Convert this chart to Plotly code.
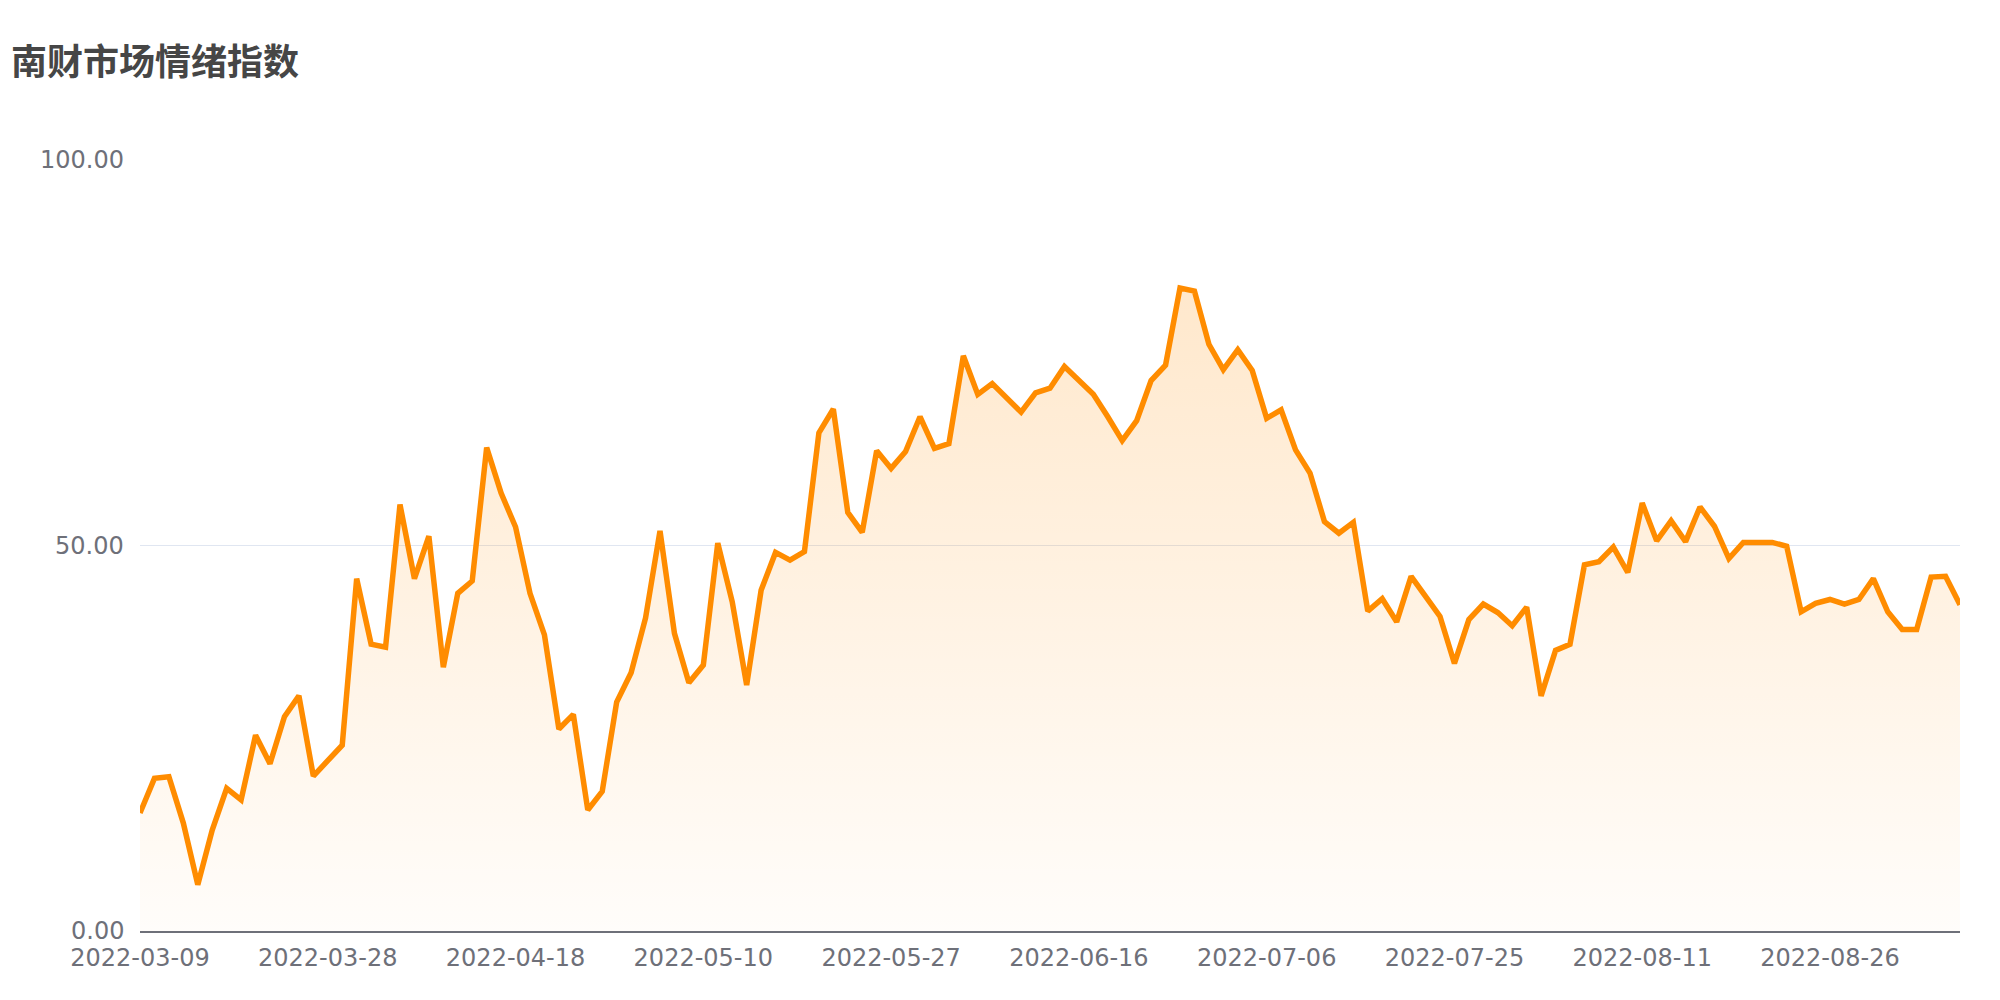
import plotly.graph_objects as go

title_text = "南财市场情绪指数"

dates = [
    "2022-03-09", "2022-03-10", "2022-03-11", "2022-03-14", "2022-03-15", "2022-03-16", "2022-03-17",
    "2022-03-18", "2022-03-21", "2022-03-22", "2022-03-23", "2022-03-24", "2022-03-25", "2022-03-28",
    "2022-03-29", "2022-03-30", "2022-03-31", "2022-04-01", "2022-04-06", "2022-04-07", "2022-04-08",
    "2022-04-11", "2022-04-12", "2022-04-13", "2022-04-14", "2022-04-15", "2022-04-18",
    "2022-04-19", "2022-04-20", "2022-04-21", "2022-04-22", "2022-04-25", "2022-04-26", "2022-04-27",
    "2022-04-28", "2022-04-29", "2022-05-05", "2022-05-06", "2022-05-09", "2022-05-10",
    "2022-05-11", "2022-05-12", "2022-05-13", "2022-05-16", "2022-05-17", "2022-05-18", "2022-05-19",
    "2022-05-20", "2022-05-23", "2022-05-24", "2022-05-25", "2022-05-26", "2022-05-27",
    "2022-05-30", "2022-05-31", "2022-06-01", "2022-06-02", "2022-06-06", "2022-06-07", "2022-06-08",
    "2022-06-09", "2022-06-10", "2022-06-13", "2022-06-14", "2022-06-15", "2022-06-16",
    "2022-06-17", "2022-06-20", "2022-06-21", "2022-06-22", "2022-06-23", "2022-06-27", "2022-06-28",
    "2022-06-29", "2022-06-30", "2022-07-01", "2022-07-04", "2022-07-05", "2022-07-06",
    "2022-07-07", "2022-07-08", "2022-07-11", "2022-07-12", "2022-07-13", "2022-07-14", "2022-07-15",
    "2022-07-18", "2022-07-19", "2022-07-20", "2022-07-21", "2022-07-22", "2022-07-25",
    "2022-07-26", "2022-07-27", "2022-07-28", "2022-07-29", "2022-08-01", "2022-08-02", "2022-08-03",
    "2022-08-04", "2022-08-05", "2022-08-08", "2022-08-09", "2022-08-10", "2022-08-11",
    "2022-08-12", "2022-08-13", "2022-08-14", "2022-08-15", "2022-08-16", "2022-08-17", "2022-08-18",
    "2022-08-19", "2022-08-22", "2022-08-23", "2022-08-24", "2022-08-25", "2022-08-26",
    "2022-08-29", "2022-08-30", "2022-08-31", "2022-09-01", "2022-09-02", "2022-09-05", "2022-09-06",
    "2022-09-07", "2022-09-08",
]

sentiment = [
    15.3, 19.8, 20.0, 14.0, 6.0, 13.1, 18.5, 17.0, 25.4, 21.7,
    27.8, 30.5, 20.1, 22.0, 24.1, 45.7, 37.2, 36.8, 55.3, 45.7,
    51.2, 34.2, 43.8, 45.4, 62.7, 56.8, 52.4, 43.8, 38.4, 26.2,
    28.1, 15.7, 18.1, 29.7, 33.5, 40.6, 51.9, 38.6, 32.2, 34.5,
    50.3, 42.7, 31.9, 44.2, 49.1, 48.1, 49.2, 64.6, 67.7, 54.3,
    51.7, 62.3, 60.0, 62.2, 66.7, 62.6, 63.2, 74.6, 69.6, 71.0,
    69.1, 67.3, 69.8, 70.4, 73.2, 71.3, 69.6, 66.7, 63.6, 66.2,
    71.4, 73.4, 83.4, 83.0, 76.1, 72.8, 75.4, 72.7, 66.5, 67.6,
    62.4, 59.4, 53.1, 51.6, 53.0, 41.5, 43.1, 40.1, 46.0, 43.4,
    40.8, 34.7, 40.4, 42.4, 41.3, 39.6, 42.0, 30.5, 36.4, 37.2,
    47.5, 47.9, 49.8, 46.5, 55.5, 50.6, 53.2, 50.5, 55.0, 52.5,
    48.3, 50.4, 50.4, 50.4, 49.9, 41.4, 42.5, 43.0, 42.4, 43.0,
    45.7, 41.4, 39.1, 39.1, 45.9, 46.0, 42.3,
]

tick_dates = dates[::13]
y_ticks = [0, 50, 100]

LABEL_SIZE = 24
PLOT_LEFT = 140
LABEL_RIGHT = 124  # right edge of the y value labels, in page pixels


def text_width(s, size=LABEL_SIZE):
    # DejaVu Sans advance widths (em): digits 0.636, period 0.318
    return sum((0.318 if ch == "." else 0.636) for ch in s) * size


fig = go.Figure()
fig.add_trace(go.Scatter(
    x=dates,
    y=sentiment,
    mode="lines",
    line=dict(color="#ff8c00", width=5.5),
    fill="tozeroy",
    fillgradient=dict(
        type="vertical",
        start=0,
        stop=max(sentiment),
        colorscale=[[0, "rgba(255,140,0,0.02)"], [1, "rgba(255,140,0,0.20)"]],
    ),
    hoverinfo="x+y",
    showlegend=False,
))

fig.update_layout(
    width=2000,
    height=1000,
    paper_bgcolor="white",
    plot_bgcolor="white",
    margin=dict(l=PLOT_LEFT, r=40, t=160, b=69, autoexpand=False),
    title=dict(
        text="<b>" + title_text + "</b>",
        x=11 / 2000,
        xref="container",
        xanchor="left",
        y=1 - 62 / 1000,
        yref="container",
        yanchor="middle",
        font=dict(family="Noto Sans CJK SC", size=36, color="#464646"),
    ),
    font=dict(family="DejaVu Sans", size=LABEL_SIZE, color="#6e7079"),
)

fig.update_xaxes(
    type="category",
    range=[0, len(dates) - 1],
    tickmode="array",
    tickvals=tick_dates,
    ticktext=tick_dates,
    showgrid=False,
    showline=True,
    linecolor="#6e7079",
    linewidth=2,
    ticks="",
    ticklabelstandoff=4,
    automargin=False,
    tickfont=dict(family="DejaVu Sans", size=LABEL_SIZE, color="#6e7079"),
    zeroline=False,
)

fig.update_yaxes(
    range=[0, 100],
    tickmode="array",
    tickvals=y_ticks,
    showticklabels=False,
    showgrid=True,
    gridcolor="#e0e6f1",
    gridwidth=1.2,
    zeroline=False,
    showline=False,
    ticks="",
    automargin=False,
)

# y value labels, left-anchored so their right edges line up just left of the plot
for v in y_ticks:
    label = f"{v:.2f}"
    left_px = LABEL_RIGHT - text_width(label)
    fig.add_annotation(
        x=0,
        xref="paper",
        y=v,
        yref="y",
        text=label,
        showarrow=False,
        xanchor="left",
        align="left",
        yanchor="middle",
        borderpad=0,
        borderwidth=0,
        xshift=left_px - PLOT_LEFT,
        font=dict(family="DejaVu Sans", size=LABEL_SIZE, color="#6e7079"),
    )

fig.write_html(
    "out.html",
    config={"displayModeBar": False},
    post_script="document.body.style.margin='0';document.body.style.overflow='hidden';",
)
